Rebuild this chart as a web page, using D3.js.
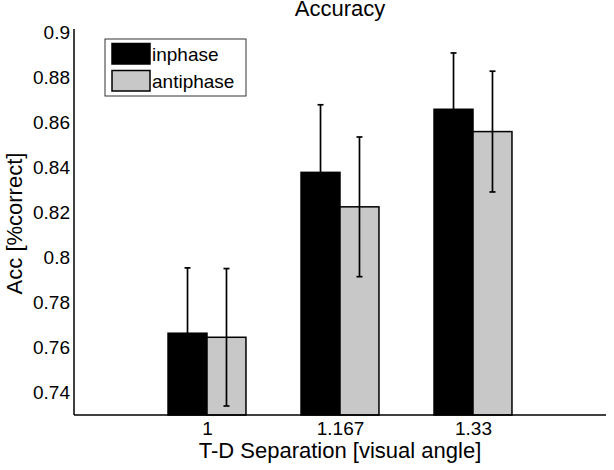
<!DOCTYPE html>
<html>
<head>
<meta charset="utf-8">
<script src="https://cdn.jsdelivr.net/npm/d3@7"></script>
<style>
  body { margin: 0; background: white; }
  svg { display: block; }
</style>
</head>
<body>
<script>
    var categories = ["1", "1.167", "1.33"]
    var seriesNames = ["inphase", "antiphase"]
    var inphaseVals = [0.7663, 0.8377, 0.8657]
    var inphaseErr = [0.029, 0.030, 0.025]
    var antiphaseVals = [0.7645, 0.8224, 0.8558]
    var antiphaseErr = [0.0305, 0.0310, 0.0268]
    var yTicks = [0.74, 0.76, 0.78, 0.8, 0.82, 0.84, 0.86, 0.88, 0.9]
    var colors = ["#000000", "#c8c8c8"]

    var W = 614, H = 470
    var padL = 74, padR = 606, padT = 32, padB = 415

    var svg = d3.select("body").append("svg")
        .attr("width", W).attr("height", H)
        .style("font-family", "'Liberation Sans', Arial, sans-serif")

    var x = d3.scaleLinear().domain([0, 4]).range([padL, padR])
    var y = d3.scaleLinear().domain([0.73, 0.9]).range([padB, padT])

    var barW = 0.293   // in x units, per bar

    var rows = []
    categories.forEach(function (c, i) {
        rows.push({cat: i + 1, s: 0, v: inphaseVals[i], e: inphaseErr[i]})
        rows.push({cat: i + 1, s: 1, v: antiphaseVals[i], e: antiphaseErr[i]})
    })

    var bars = svg.selectAll('.bar').data(rows).enter().append('g').attr('class', 'bar')

    bars.append('rect')
        .attr('x', function (d) { return x(d.cat + (d.s - 1) * barW) })
        .attr('width', function () { return x(barW) - x(0) })
        .attr('y', function (d) { return y(d.v) })
        .attr('height', function (d) { return y(0.73) - y(d.v) })
        .style('fill', function (d) { return colors[d.s] })
        .style('stroke', 'black')
        .style('stroke-width', 1.5)

    // error bars
    var cx = function (d) { return x(d.cat + (d.s - 0.5) * barW) }
    bars.append('line')
        .attr('x1', cx).attr('x2', cx)
        .attr('y1', function (d) { return y(d.v - d.e) })
        .attr('y2', function (d) { return y(d.v + d.e) })
        .style('stroke', 'black').style('stroke-width', 1.7)
    bars.append('line')
        .attr('x1', function (d) { return cx(d) - 3 })
        .attr('x2', function (d) { return cx(d) + 3 })
        .attr('y1', function (d) { return y(d.v + d.e) })
        .attr('y2', function (d) { return y(d.v + d.e) })
        .style('stroke', 'black').style('stroke-width', 1.7)
    bars.append('line')
        .attr('x1', function (d) { return cx(d) - 3 })
        .attr('x2', function (d) { return cx(d) + 3 })
        .attr('y1', function (d) { return y(d.v - d.e) })
        .attr('y2', function (d) { return y(d.v - d.e) })
        .style('stroke', 'black').style('stroke-width', 1.7)

    // axes
    var yAxis = svg.append('g').attr('transform', 'translate(' + padL + ',0)')
        .call(d3.axisLeft(y).tickValues(yTicks).tickSize(0).tickPadding(4)
            .tickFormat(function (d) { return String(+d.toFixed(2)) }))
    yAxis.select('.domain').attr('d', 'M0,' + (padT - 3) + 'V' + padB)
        .style('stroke', 'black').style('stroke-width', 1.5)
    yAxis.selectAll('text').attr('font-size', '19px').attr('font-family', null).attr('fill', 'black')

    var xAxis = svg.append('g').attr('transform', 'translate(0,' + padB + ')')
        .call(d3.axisBottom(x).tickValues([1, 2, 3]).tickSize(0).tickPadding(7)
            .tickFormat(function (d) { return categories[d - 1] }))
    xAxis.select('.domain').attr('d', 'M' + padL + ',0H' + padR)
        .style('stroke', 'black').style('stroke-width', 1.5)
    xAxis.selectAll('text').attr('font-size', '19px').attr('font-family', null).attr('fill', 'black')

    // labels
    svg.append('text').text('Accuracy')
        .attr('x', (padL + padR) / 2).attr('y', 16)
        .attr('text-anchor', 'middle').attr('font-size', '22px')
    svg.append('text').text('T-D Separation [visual angle]')
        .attr('x', (padL + padR) / 2).attr('y', 458)
        .attr('text-anchor', 'middle').attr('font-size', '22px')
    svg.append('text').text('Acc [%correct]')
        .attr('transform', 'translate(22,' + ((padT + padB) / 2) + ') rotate(-90)')
        .attr('text-anchor', 'middle').attr('font-size', '22px')

    // legend
    var legend = svg.append('g')
    legend.append('rect')
        .attr('x', 105).attr('y', 39).attr('width', 141).attr('height', 57)
        .style('fill', 'white').style('stroke', '#333').style('stroke-width', 1)
    seriesNames.forEach(function (name, i) {
        legend.append('rect')
            .attr('x', 112).attr('y', 43.5 + i * 27).attr('width', 38).attr('height', 20.5)
            .style('fill', colors[i]).style('stroke', 'black').style('stroke-width', 1.5)
        legend.append('text').text(name)
            .attr('x', 152).attr('y', 61 + i * 27)
            .attr('font-size', '19px')
    })
</script>
</body>
</html>
